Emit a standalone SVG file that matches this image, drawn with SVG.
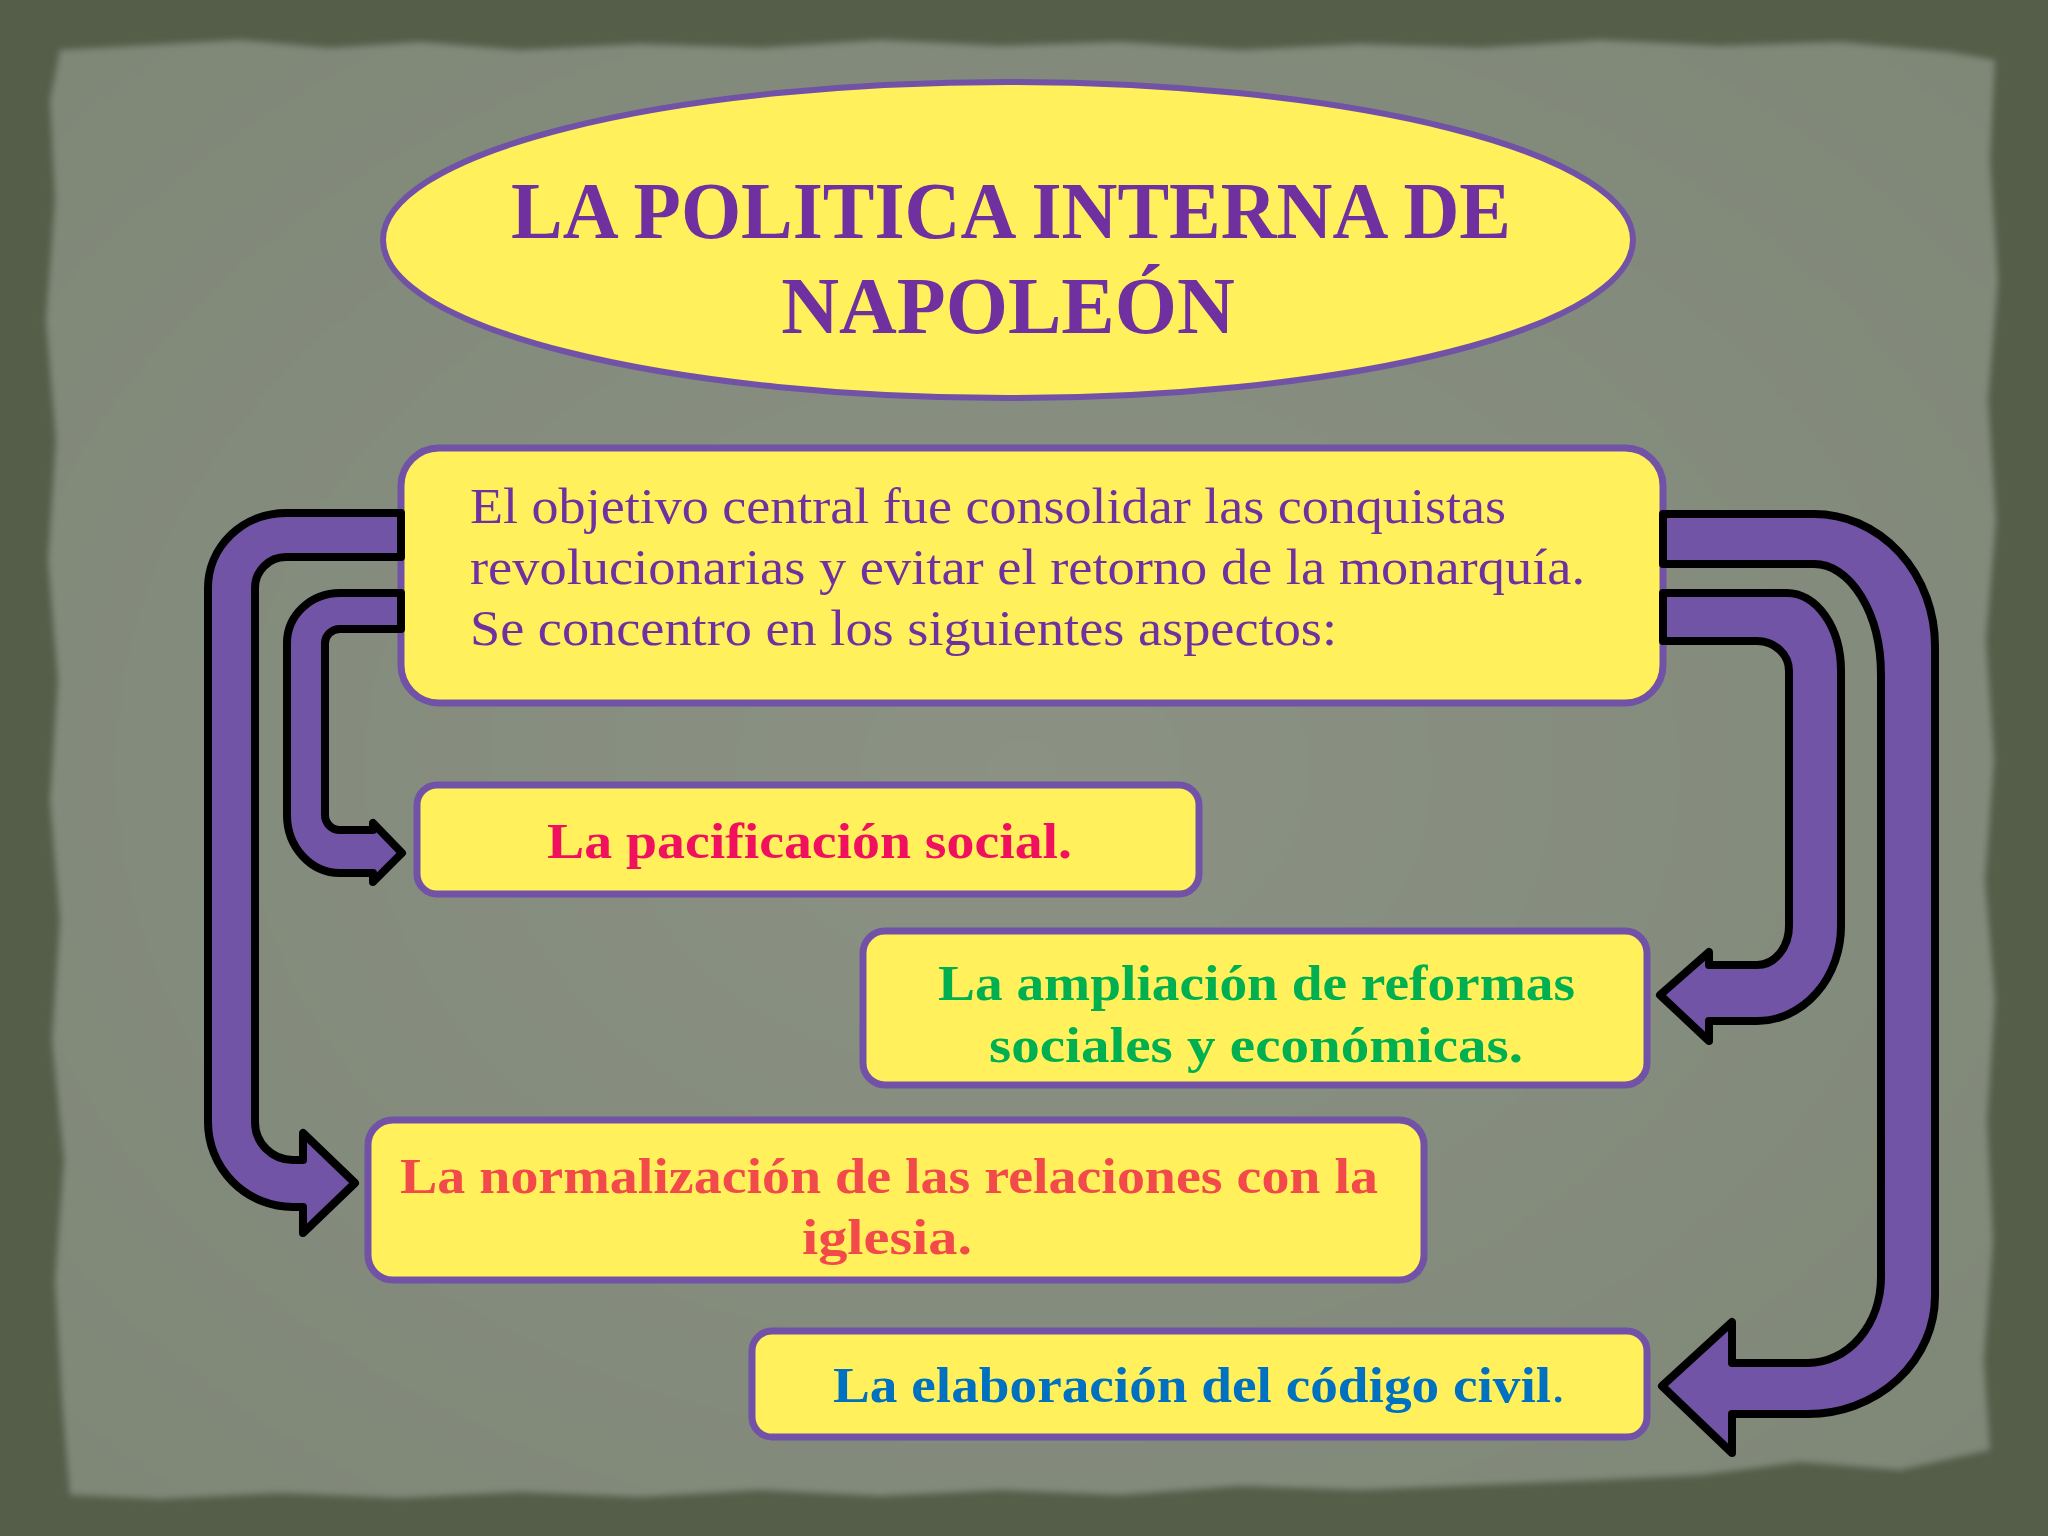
<svg xmlns="http://www.w3.org/2000/svg" width="2048" height="1536" viewBox="0 0 2048 1536">
<style>
.box{fill:#FFF05C;stroke:#7152A6;stroke-width:7}
.arrow{fill:#7254A6;stroke:#000;stroke-width:8;stroke-linejoin:round}
.t{font-family:"Liberation Serif","Times New Roman",serif}
.b{font-weight:bold}
</style>
<defs>
<filter id="soft" x="-5%" y="-5%" width="110%" height="110%"><feGaussianBlur stdDeviation="3"/></filter>
<radialGradient id="pg" cx="50%" cy="50%" r="70%"><stop offset="0" stop-color="#8b9284"/><stop offset="1" stop-color="#7f8777"/></radialGradient>
</defs>
<rect x="0" y="0" width="2048" height="1536" fill="#545e49"/>
<polygon filter="url(#soft)" fill="url(#pg)" points="60,50 150,45 240,40 330,48 420,42 520,50 640,44 760,48 880,40 1000,46 1120,42 1240,50 1360,44 1480,48 1600,40 1720,46 1840,42 1950,52 1995,60 1990,160 1998,280 1988,400 1996,520 1986,640 1994,760 1985,880 1995,1000 1987,1120 1993,1240 1984,1360 1990,1450 1900,1470 1800,1462 1700,1475 1600,1480 1480,1485 1360,1490 1240,1486 1120,1495 1000,1490 880,1496 760,1490 640,1497 520,1492 400,1498 280,1493 160,1499 70,1495 62,1400 55,1280 64,1160 52,1040 60,920 50,800 58,680 48,560 56,440 46,320 55,200 50,100"/>

<g id="title">
<ellipse cx="1008" cy="240" rx="625" ry="158" fill="#FFF05C" stroke="#7152A6" stroke-width="6"/>
<text class="t b" x="1011" y="238" font-size="80" fill="#7030A0" text-anchor="middle" textLength="1000" lengthAdjust="spacingAndGlyphs">LA POLITICA INTERNA DE</text>
<text class="t b" x="1008" y="333" font-size="80" fill="#7030A0" text-anchor="middle">NAPOLEÓN</text>
</g>

<g id="main">
<rect class="box" x="401" y="448" width="1262" height="255" rx="38" stroke-width="8"/>
<text class="t" font-size="51" fill="#7030A0">
<tspan x="470" y="523" textLength="1036" lengthAdjust="spacingAndGlyphs">El objetivo central fue consolidar las conquistas</tspan>
<tspan x="470" y="584" textLength="1115" lengthAdjust="spacingAndGlyphs">revolucionarias y evitar el retorno de la monarquía.</tspan>
<tspan x="470" y="645" textLength="867" lengthAdjust="spacingAndGlyphs">Se concentro en los siguientes aspectos:</tspan>
</text>
</g>

<g id="pacificacion">
<rect class="box" x="417" y="785" width="782" height="109" rx="20"/>
<text class="t b" x="547" y="858" font-size="50" fill="#F0105E" textLength="525" lengthAdjust="spacingAndGlyphs">La pacificación social.</text>
</g>

<g id="ampliacion">
<rect class="box" x="863" y="931" width="784" height="154" rx="22"/>
<text class="t b" font-size="50" fill="#00B050">
<tspan x="938" y="1000" textLength="637" lengthAdjust="spacingAndGlyphs">La ampliación de reformas</tspan>
<tspan x="989" y="1062" textLength="534" lengthAdjust="spacingAndGlyphs">sociales y económicas.</tspan>
</text>
</g>

<g id="normalizacion">
<rect class="box" x="368" y="1120" width="1056" height="160" rx="25"/>
<text class="t b" font-size="50" fill="#F24A4A">
<tspan x="400" y="1193" textLength="978" lengthAdjust="spacingAndGlyphs">La normalización de las relaciones con la</tspan>
<tspan x="802" y="1254" textLength="170" lengthAdjust="spacingAndGlyphs">iglesia.</tspan>
</text>
</g>

<g id="codigo">
<rect class="box" x="752" y="1331" width="895" height="106" rx="20"/>
<text class="t b" x="833" y="1402" font-size="50" fill="#0070C0" textLength="732" lengthAdjust="spacingAndGlyphs">La elaboración del código civil<tspan font-weight="normal">.</tspan></text>
</g>

<g id="connectors">
<path class="arrow" d="M 401 513 L 286 513 A 78 75 0 0 0 208 588 L 208 1122 A 85 85 0 0 0 293 1207 L 303 1207 L 303 1233 L 355 1183 L 303 1133 L 303 1160 L 293 1160 A 38 38 0 0 1 255 1122 L 255 588 A 31 31 0 0 1 286 557 L 401 557 Z"/>
<path class="arrow" d="M 401 593 L 340 593 A 53 50 0 0 0 287 643 L 287 815 A 53 58 0 0 0 340 873 L 373 873 L 373 882 L 402 853 L 373 823 L 373 830 L 340 830 A 15 15 0 0 1 325 815 L 325 643 A 15 14 0 0 1 340 629 L 401 629 Z"/>
<path class="arrow" d="M 1663 593 L 1787 593 A 54 78 0 0 1 1841 671 L 1841 926 A 84 95 0 0 1 1757 1021 L 1709 1021 L 1709 1041 L 1660 995 L 1709 952 L 1709 965 L 1757 965 A 32 39 0 0 0 1789 926 L 1789 671 A 32 30 0 0 0 1757 641 L 1663 641 Z"/>
<path class="arrow" d="M 1663 514 L 1814 514 A 121 132 0 0 1 1935 646 L 1935 1296 A 127 118 0 0 1 1808 1414 L 1732 1414 L 1732 1453 L 1662 1386 L 1732 1322 L 1732 1363 L 1808 1363 A 73 86 0 0 0 1881 1277 L 1881 675 A 67 111 0 0 0 1814 564 L 1663 564 Z"/>
</g>
</svg>
